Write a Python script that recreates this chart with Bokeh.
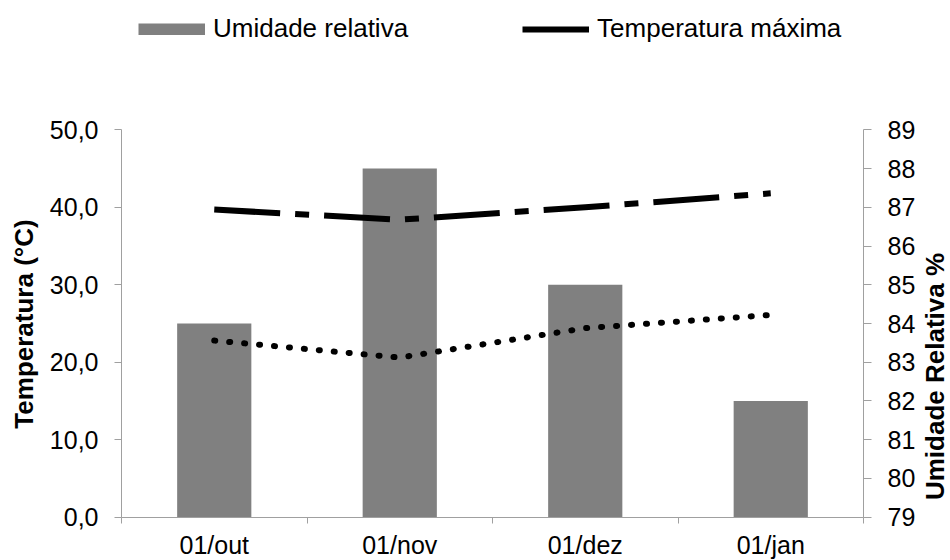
import math

from bokeh.embed import file_html
from bokeh.models import (ColumnDataSource, FixedTicker, Label, Legend,
                          LegendItem, LinearAxis, Range1d)
from bokeh.plotting import figure
from bokeh.resources import INLINE

# ---- data ---------------------------------------------------------------
months = ["01/out", "01/nov", "01/dez", "01/jan"]
umidade_relativa = [84, 88, 85, 82]            # % (right axis)
temperatura_maxima = [39.7, 38.4, 40.0, 41.8]  # °C (left axis)
temperatura_minima = [22.8, 20.6, 24.4, 26.1]  # °C (left axis)
temp_ticks = [0, 10, 20, 30, 40, 50]
rh_ticks = list(range(79, 90))

# ---- layout / styling -----------------------------------------------------
W, H = 950, 560
# pixel box of the axes inside the canvas (left, right, top, bottom)
AX_L, AX_R, AX_T, AX_B = 121.0, 863.0, 129.3, 516.7
FONT = "Liberation Sans"
GRAY_AXIS = "#a0a0a0"
BAR_COLOR = "#808080"
TICK_FONT = "25px"

n = len(months)
centers = [i + 0.5 for i in range(n)]
bounds = list(range(n + 1))
t0, t1 = temp_ticks[0], temp_ticks[-1]
r0, r1 = rh_ticks[0], rh_ticks[-1]

# The frame covers the whole canvas; the axes sit at fixed data positions,
# so the ranges are widened to put them at the wanted pixel box.
def widened(lo, hi, px_lo, px_hi, px_total, flip=False):
    per_px = (hi - lo) / (px_hi - px_lo)
    if flip:  # vertical: pixel 0 is at the top
        return Range1d(lo - (px_total - px_hi) * per_px, hi + px_lo * per_px)
    return Range1d(lo - px_lo * per_px, hi + (px_total - px_hi) * per_px)

src = ColumnDataSource(dict(x=centers, rh=umidade_relativa,
                            tmax=temperatura_maxima, tmin=temperatura_minima))

p = figure(width=W, height=H, output_backend="svg", toolbar_location=None,
           x_range=widened(0, n, AX_L, AX_R, W),
           y_range=widened(t0, t1, AX_T, AX_B, H, flip=True),
           min_border=0)
p.outline_line_color = None
p.grid.visible = False
p.background_fill_color = "white"
p.border_fill_color = "white"
p.extra_y_ranges = {"rh": widened(r0, r1, AX_T, AX_B, H, flip=True)}

# humidity bars on the secondary scale
bars = p.vbar(x="x", top="rh", bottom=r0, width=0.4, source=src,
              y_range_name="rh", fill_color=BAR_COLOR, line_color=None)

# maximum temperature: long dash-dot
line_max = p.line(x="x", y="tmax", source=src, line_color="black", line_width=6,
                  line_dash="66 15 14 15", line_cap="butt", line_join="round")

# minimum temperature: round dots
line_min = p.line(x="x", y="tmin", source=src, line_color="black", line_width=6,
                  line_dash="1 14", line_cap="round", line_join="round")

# legend swatches (a single NaN point, so they only show in the legend)
nan = float("nan")
swatch_bar = p.line(x=[nan], y=[nan], line_color=BAR_COLOR, line_width=12, line_cap="butt")
swatch_max = p.line(x=[nan], y=[nan], line_color="black", line_width=6, line_cap="butt")

# ---- axes ---------------------------------------------------------------
def style_axis(ax):
    ax.axis_line_color = GRAY_AXIS
    ax.axis_line_width = 1
    ax.major_tick_line_color = GRAY_AXIS
    ax.minor_tick_line_color = GRAY_AXIS
    ax.major_label_text_font = FONT
    ax.major_label_text_font_size = TICK_FONT
    ax.major_label_text_color = "black"

xa = p.xaxis[0]
style_axis(xa)
xa.fixed_location = t0
xa.bounds = (0, n)
xa.ticker = FixedTicker(ticks=centers, minor_ticks=bounds)
xa.major_label_overrides = {c: m for c, m in zip(centers, months)}
xa.major_tick_out = 0
xa.major_tick_in = 0
xa.minor_tick_out = 6
xa.minor_tick_in = 0
xa.major_label_standoff = 8

ya = p.yaxis[0]
style_axis(ya)
ya.fixed_location = 0
ya.bounds = (t0, t1)
ya.ticker = FixedTicker(ticks=temp_ticks)
ya.major_label_overrides = {t: f"{t:.1f}".replace(".", ",") for t in temp_ticks}
ya.major_tick_out = 7
ya.major_tick_in = 0
ya.minor_tick_out = 0
ya.minor_tick_in = 0
ya.major_label_standoff = 16

ra = LinearAxis(y_range_name="rh", ticker=FixedTicker(ticks=rh_ticks),
                bounds=(r0, r1), fixed_location=n)
style_axis(ra)
ra.major_tick_out = 8
ra.major_tick_in = 0
ra.minor_tick_out = 0
ra.minor_tick_in = 0
ra.major_label_standoff = 16
p.add_layout(ra, "right")

# ---- axis titles (screen units, measured from the bottom-left corner) -----
def title(text, x_px, y_px, size):
    return Label(x=x_px, y=H - y_px, x_units="screen", y_units="screen",
                 text=text, angle=math.pi / 2, text_font=FONT,
                 text_font_size=size, text_font_style="bold",
                 text_align="center", text_baseline="middle", text_color="black")

p.add_layout(title("Temperatura (°C)", 23, 323.5, "26px"))
p.add_layout(title("Umidade Relativa %", 934, 376, "26px"))

# ---- legend ---------------------------------------------------------------
legend = Legend(items=[LegendItem(label="Umidade relativa", renderers=[swatch_bar]),
                       LegendItem(label="Temperatura máxima", renderers=[swatch_max])],
                location=(138, H - 14 - 30), orientation="horizontal",
                glyph_width=67, glyph_height=12, label_standoff=8, spacing=114,
                padding=0, margin=0, border_line_color=None, background_fill_alpha=0,
                label_text_font=FONT, label_text_font_size="26px",
                label_text_baseline="middle", label_text_color="black")
p.add_layout(legend, "center")

open("out.html", "w").write(file_html(p, INLINE))
